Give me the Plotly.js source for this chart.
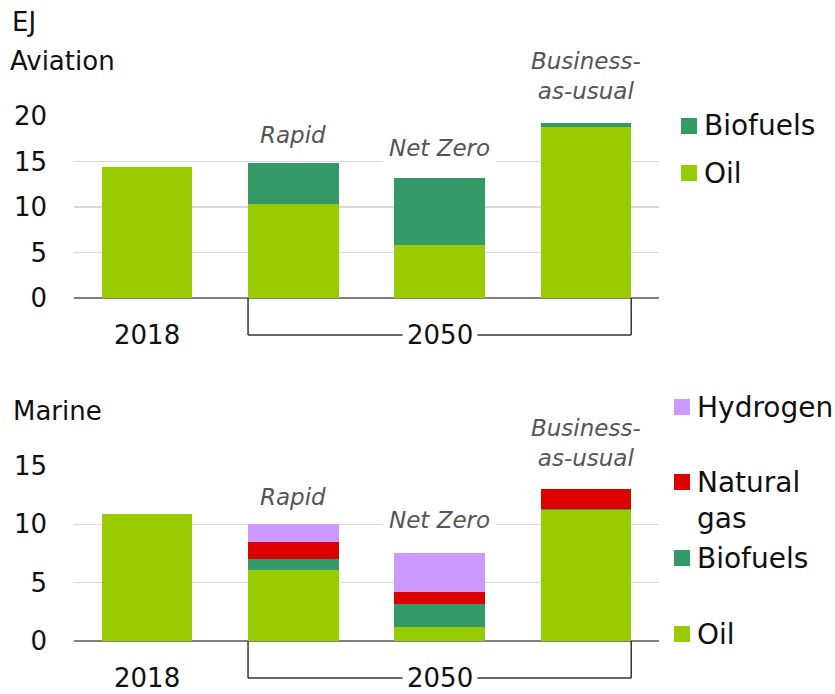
<!DOCTYPE html>
<html>
<head>
<meta charset="utf-8">
<script src="https://cdn.plot.ly/plotly-3.0.1.min.js"></script>
<style>
  html, body { margin: 0; padding: 0; background: #fff; }
  #chart { width: 835px; height: 694px; }
</style>
</head>
<body>
<div id="chart"></div>
<script>
// Datos (EJ)
const categories = ['2018', 'Rapid', 'Net Zero', 'Business-as-usual']
const scenarioLabels = ['Rapid', 'Net Zero', 'Business-<br>as-usual']
const yearLabels = ['2018', '2050']

const aviationOil = [14.35, 10.3, 5.8, 18.8]
const aviationBiofuels = [0.02, 4.5, 7.4, 0.4]

const marineOil = [10.85, 6.1, 1.2, 11.2]
const marineBiofuels = [0, 0.95, 1.95, 0.08]
const marineGas = [0.04, 1.45, 1.05, 1.72]
const marineHydrogen = [0, 1.55, 3.35, 0]

const aviationTicks = [0, 5, 10, 15, 20]
const marineTicks = [0, 5, 10, 15]

const aviationLegend = ['Biofuels', 'Oil']
const marineLegend = ['Hydrogen', 'Natural<br>gas', 'Biofuels', 'Oil']

const colores = {
    oil: '#99cc00',
    biofuels: '#339966',
    gas: '#dd0000',
    hydrogen: '#cc99ff'
}

const W = 835, H = 694
const FONT = 'DejaVu Sans, sans-serif'
// pixel -> paper
const px = x => x / W
const py = y => 1 - y / H

function barra(y, color, name, xa, ya) {
    return {
        type: 'bar',
        x: categories,
        y: y,
        name: name,
        xaxis: xa,
        yaxis: ya,
        width: 0.62,
        marker: { color: color, line: { width: 0 } },
        showlegend: false,
        hoverinfo: 'skip'
    }
}

const trazas = [
    barra(aviationOil, colores.oil, 'Oil', 'x', 'y'),
    barra(aviationBiofuels, colores.biofuels, 'Biofuels', 'x', 'y'),
    barra(marineOil, colores.oil, 'Oil', 'x2', 'y2'),
    barra(marineBiofuels, colores.biofuels, 'Biofuels', 'x2', 'y2'),
    barra(marineGas, colores.gas, 'Natural gas', 'x2', 'y2'),
    barra(marineHydrogen, colores.hydrogen, 'Hydrogen', 'x2', 'y2')
]

const ejeX = {
    type: 'category',
    categoryarray: categories,
    range: [-0.5, 3.5],
    domain: [px(74), px(659)],
    showticklabels: false,
    showgrid: false,
    zeroline: false,
    showline: false,
    fixedrange: true
}

function ejeY(ticks, dominio, anchor) {
    return {
        range: [0, ticks[ticks.length - 1]],
        domain: dominio,
        anchor: anchor,
        tickvals: ticks,
        ticktext: ticks.map(String),
        tickfont: { family: FONT, size: 26, color: '#111' },
        ticks: '',
        ticklabelstandoff: 26,
        showgrid: true,
        gridcolor: '#d9d9d9',
        gridwidth: 1.5,
        zeroline: true,
        zerolinecolor: '#808080',
        zerolinewidth: 1.5,
        showline: false,
        fixedrange: true
    }
}

const annotations = []
const shapes = []

function texto(t, x, y, opts) {
    annotations.push(Object.assign({
        text: t, x: px(x), y: py(y), xref: 'paper', yref: 'paper',
        showarrow: false, xanchor: 'left', yanchor: 'middle', align: 'left',
        font: { family: FONT, size: 26, color: '#111' }
    }, opts || {}))
}

// Títulos
texto('EJ', 10, 22)
texto('Aviation', 8, 61)
texto('Marine', 11, 411)

// Etiquetas de escenario
const posEscenario = [
    { xa: 'x', ys: [135, 148, 76] },
    { xa: 'x2', ys: [497, 520, 443] }
]
posEscenario.forEach(p => {
    scenarioLabels.forEach((lab, i) => {
        annotations.push({
            text: lab, x: i + 1, y: py(p.ys[i]), xref: p.xa, yref: 'paper',
            showarrow: false, xanchor: 'center', yanchor: 'middle',
            bgcolor: '#ffffff', borderpad: 6,
            font: { family: FONT, size: 23, color: '#555', style: 'italic' }
        })
    })
})

// Eje de años y corchete 2050
const brackets = [
    { xa: 'x', top: 298, bot: 335 },
    { xa: 'x2', top: 641, bot: 678 }
]
brackets.forEach(b => {
    const linea = { color: '#333', width: 1.5 }
    const x0 = 1 - 0.31, x1 = 3 + 0.31
    shapes.push({ type: 'line', xref: b.xa, yref: 'paper', x0: x0, x1: x0, y0: py(b.top), y1: py(b.bot), line: linea })
    shapes.push({ type: 'line', xref: b.xa, yref: 'paper', x0: x1, x1: x1, y0: py(b.top), y1: py(b.bot), line: linea })
    shapes.push({ type: 'line', xref: b.xa, yref: 'paper', x0: x0, x1: x1, y0: py(b.bot), y1: py(b.bot), line: linea })
    annotations.push({
        text: yearLabels[0], x: 0, y: py(b.bot), xref: b.xa, yref: 'paper',
        showarrow: false, xanchor: 'center', yanchor: 'middle',
        font: { family: FONT, size: 26, color: '#111' }
    })
    annotations.push({
        text: yearLabels[1], x: 2, y: py(b.bot), xref: b.xa, yref: 'paper',
        showarrow: false, xanchor: 'center', yanchor: 'middle',
        bgcolor: '#ffffff', borderpad: 4,
        font: { family: FONT, size: 26, color: '#111' }
    })
})

// Leyendas
function leyenda(nombres, cols, sqX, centros) {
    nombres.forEach((n, i) => {
        const c = centros[i]
        shapes.push({
            type: 'rect', xref: 'paper', yref: 'paper',
            x0: px(sqX), x1: px(sqX + 16), y0: py(c - 8), y1: py(c + 8),
            fillcolor: cols[i], line: { width: 0 }
        })
        const dosLineas = n.indexOf('<br>') >= 0
        texto(n, sqX + 21, dosLineas ? c + 18 : c, {
            font: { family: FONT, size: 28, color: '#111' }
        })
    })
}
leyenda(aviationLegend, [colores.biofuels, colores.oil], 681, [126, 173])
leyenda(marineLegend, [colores.hydrogen, colores.gas, colores.biofuels, colores.oil], 674, [407, 482, 558, 634])

const layout = {
    width: W,
    height: H,
    margin: { l: 0, r: 0, t: 0, b: 0 },
    paper_bgcolor: '#ffffff',
    plot_bgcolor: '#ffffff',
    barmode: 'stack',
    bargap: 0.38,
    showlegend: false,
    xaxis: Object.assign({ anchor: 'y' }, ejeX),
    yaxis: ejeY(aviationTicks, [py(298), py(116)], 'x'),
    xaxis2: Object.assign({ anchor: 'y2' }, ejeX),
    yaxis2: ejeY(marineTicks, [py(641), py(466)], 'x2'),
    annotations: annotations,
    shapes: shapes
}

Plotly.newPlot('chart', trazas, layout, { displayModeBar: false, staticPlot: true })
</script>
</body>
</html>
